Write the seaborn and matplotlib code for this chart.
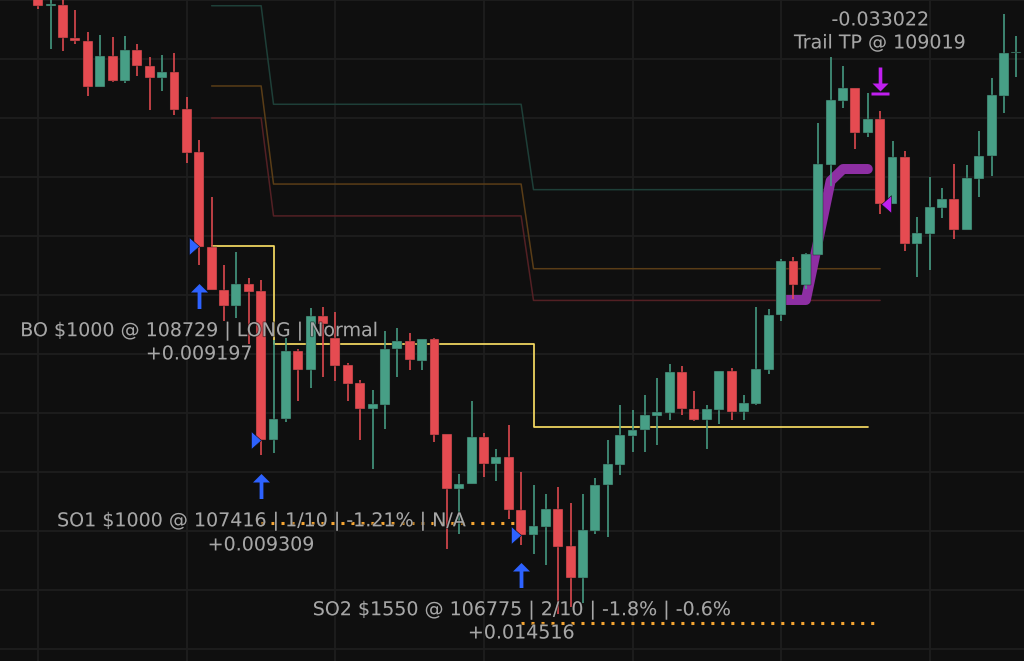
import matplotlib
matplotlib.use("Agg")
import matplotlib.pyplot as plt
import matplotlib.patheffects as pe
from matplotlib.path import Path
import numpy as np
import pandas as pd
import seaborn as sns

# ---- Candles (prices, one list per field) ----
opens = [110420, 110359, 110366, 110144, 110122, 109810, 110020, 109853, 110061, 109953,
         109871, 109910, 109659, 109367, 108727, 108434, 108325, 108474, 108425, 107417,
         107557, 108022, 107891, 108258, 108108, 107923, 107803, 107625, 107656, 108032,
         108090, 107954, 108102, 107455, 107083, 107116, 107437, 107252, 107302, 106944,
         106773, 106827, 106951, 106698, 106483, 106798, 107110, 107245, 107444, 107483,
         107580, 107602, 107878, 107627, 107550, 107622, 107883, 107607, 107663, 107893,
         108262, 108628, 108470, 108673, 109283, 109717, 109803, 109498, 109593, 109019,
         109334, 108746, 108816, 108990, 109051, 108843, 109186, 109340, 109751, 110043]
highs = [110434, 110441, 110400, 110332, 110185, 110163, 110151, 110156, 110102, 110016,
         110027, 110039, 109744, 109451, 109062, 108603, 108689, 108513, 108502, 108095,
         108108, 108034, 108312, 108317, 108283, 107941, 107826, 107756, 108154, 108176,
         108140, 108102, 108108, 107455, 107188, 107681, 107464, 107354, 107518, 107200,
         107112, 107049, 107098, 106990, 107049, 107161, 107417, 107652, 107620, 107724,
         107837, 107932, 107919, 107749, 107654, 107883, 107905, 107722, 108319, 108305,
         108644, 108658, 108687, 109564, 110016, 109955, 109803, 109769, 109647, 109444,
         109374, 108931, 109198, 109125, 109288, 109281, 109510, 109869, 110305, 110156]
lows = [110339, 110068, 110054, 110104, 109749, 109810, 109844, 109839, 109885, 109654,
        109785, 109620, 109297, 108603, 108434, 108224, 108246, 108068, 107313, 107331,
        107541, 107683, 107771, 107846, 107817, 107683, 107417, 107222, 107493, 107846,
        107889, 107889, 107405, 106680, 106777, 107116, 107166, 107141, 106879, 106705,
        106646, 106567, 106237, 106287, 106314, 106782, 106759, 107177, 107335, 107335,
        107381, 107550, 107584, 107546, 107356, 107525, 107552, 107552, 107654, 107864,
        108226, 108375, 108443, 108673, 109139, 109668, 109392, 109469, 108951, 109019,
        108700, 108522, 108569, 108922, 108780, 108843, 109066, 109205, 109634, 109880]
closes = [110359, 110373, 110142, 110120, 109810, 110020, 109853, 110061, 109950, 109871,
          109910, 109654, 109365, 108727, 108434, 108325, 108474, 108420, 107417, 107561,
          108022, 107891, 108258, 108203, 107919, 107799, 107625, 107661, 108034, 108090,
          107959, 108102, 107451, 107083, 107121, 107437, 107252, 107302, 106942, 106773,
          106834, 106951, 106691, 106483, 106807, 107114, 107252, 107449, 107487, 107584,
          107607, 107878, 107625, 107550, 107627, 107883, 107607, 107668, 107898, 108266,
          108630, 108470, 108678, 109288, 109722, 109803, 109498, 109593, 109019, 109334,
          108746, 108820, 108995, 109051, 108843, 109193, 109344, 109756, 110039, 110049]

# ---- Strategy levels ----
level_x = [14, 18, 19, 39, 40, 68]
tp_level = [110361, 110361, 109693, 109693, 109114, 109114]
mid_level = [109817, 109817, 109152, 109152, 108578, 108578]
sl_level = [109600, 109600, 108936, 108936, 108363, 108363]
avg_x = [14, 19, 19, 40, 40, 67]
avg_level = [108729, 108729, 108068, 108068, 107505, 107505]
trail_x = [60, 62, 64, 65, 66, 67]
trail_level = [108366, 108366, 109173, 109254, 109254, 109254]
so1_x = [18, 39]
so1_level = [106852, 106852]
so2_x = [39, 68]
so2_level = [106178, 106178]

# ---- Entries, exit and labels ----
entry_idx = [13, 18, 39]
entry_price = [108729, 107416, 106775]
exit_idx = 68
exit_price = 109019
label_x = [13, 13, 18, 18, 39, 39, 68, 68]
label_price = [108156, 108000, 106867, 106705, 106264, 106108, 110265, 110109]
label_text = ["BO $1000 @ 108729 | LONG | Normal", "+0.009197",
              "SO1 $1000 @ 107416 | 1/10 | -1.21% | N/A", "+0.009309",
              "SO2 $1550 @ 106775 | 2/10 | -1.8% | -0.6%", "+0.014516",
              "-0.033022", "Trail TP @ 109019"]

BG = "#0f0f0f"
GRID = "#1e1e1e"
UP = "#479f86"
DOWN = "#e54b51"
BLUE = "#2d62ff"
MAGENTA = "#c01ff0"

sns.set_theme(style="dark", rc={"axes.facecolor": BG, "figure.facecolor": BG})
plt.rcParams["font.family"] = ["DejaVu Sans"]

fig = plt.figure(figsize=(10.24, 6.61), dpi=100)
ax = fig.add_axes([0, 0, 1, 1])

# ---- Level lines ----
for ys, xs, col, w in [(tp_level, level_x, "#1e3f38", 1.1),
                       (mid_level, level_x, "#5a3d17", 1.1),
                       (sl_level, level_x, "#532024", 1.1),
                       (avg_level, avg_x, "#f6da62", 1.25)]:
    sns.lineplot(x=xs, y=ys, color=col, lw=w, estimator=None, sort=False, ax=ax, zorder=1)

sns.lineplot(x=trail_x, y=trail_level, color="#8e2fa3", lw=7.2, estimator=None, sort=False,
             ax=ax, zorder=2, solid_capstyle="round", solid_joinstyle="round")

# dotted safety order lines
for xs, ys in [(so1_x, so1_level), (so2_x, so2_level)]:
    sns.lineplot(x=xs, y=ys, color="#f5a533", lw=2.2, estimator=None, sort=False, ax=ax, zorder=2)
    dotted = ax.lines[-1]
    dotted.set_linestyle((0, (1, 2.27)))
    dotted.set_dash_capstyle("butt")

# ---- Candles ----
candles = pd.DataFrame({"open": opens, "high": highs, "low": lows, "close": closes})
candles["idx"] = candles.index
candles["color"] = np.where(candles["close"] >= candles["open"], UP, DOWN)
ax.vlines(candles["idx"], candles["low"], candles["high"], colors=candles["color"], lw=1.15, zorder=3)
ax.bar(candles["idx"], (candles["close"] - candles["open"]).abs(),
       bottom=candles[["open", "close"]].min(axis=1), width=0.8,
       color=candles["color"], edgecolor="#1c1c1c", linewidth=0.3, zorder=3)

# ---- Markers ----
tri_right = [(-9, -8), (0, 0), (-9, 8), (-9, -8)]
tri_left = [(10, -8), (1, 0), (10, 8), (10, -8)]
arrow_up = [(0, 12.5), (8.5, 4), (1.9, 4), (1.9, -12.5), (-1.9, -12.5), (-1.9, 4), (-8.5, 4), (0, 12.5)]
arrow_down = Path(
    [(-1.8, 14), (1.8, 14), (1.8, -2), (8, -2), (0, -10), (-8, -2), (-1.8, -2), (-1.8, 14),
     (-9, -11), (9, -11), (9, -14), (-9, -14), (-9, -11)],
    [Path.MOVETO] + [Path.LINETO] * 6 + [Path.CLOSEPOLY] + [Path.MOVETO] + [Path.LINETO] * 3 + [Path.CLOSEPOLY],
)
px = 72 / 100

arrow_gap = 207  # price distance from the candle tip to the arrow centre
for i, p in zip(entry_idx, entry_price):
    ax.plot(i, p, marker=tri_right, ms=20 * px, color=BLUE, mec="#0c0c0c", mew=0.4, zorder=4)
    ax.plot(i, lows[i] - arrow_gap, marker=arrow_up, ms=25 * px, color=BLUE, mew=0, zorder=4)
ax.plot(exit_idx, exit_price, marker=tri_left, ms=22 * px, color=MAGENTA, mec="#0c0c0c", mew=0.4, zorder=4)
ax.plot(exit_idx, highs[exit_idx] + arrow_gap, marker=arrow_down, ms=28 * px, color=MAGENTA, mew=0, zorder=4)

# ---- Text labels ----
for x, y, s in zip(label_x, label_price, label_text):
    ax.text(x, y, s, color="#a6a6a6", fontsize=13.7, ha="center", va="center", zorder=5,
            path_effects=[pe.withStroke(linewidth=1.4, foreground=BG, alpha=0.5)])

# ---- Axes ----
ax.set_xlim(-3.094, 79.62)
ax.set_ylim(105918, 110400)
ax.set_xticks(np.arange(0, 80, 12))
ax.set_yticks(np.arange(106000, 110401, 400))
ax.grid(True, color=GRID, lw=1.3)
ax.set_axisbelow(True)
ax.tick_params(length=0, labelbottom=False, labelleft=False)
ax.set_xlabel("")
ax.set_ylabel("")
sns.despine(ax=ax, left=True, bottom=True)

fig.savefig("out.png", dpi=100, facecolor=BG)
